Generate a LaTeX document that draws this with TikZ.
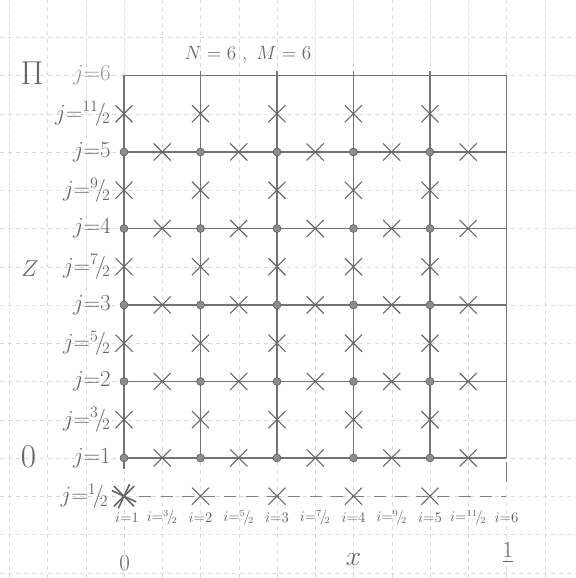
\documentclass[tikz,border=0pt]{standalone}
\usepackage{amsmath}
\usepackage{tikz}
\usetikzlibrary{shapes,positioning,calc}
\usepackage{xcolor}

\newcommand{\slfrac}[2]{{}^{#1}\!/\!_{#2}}

\begin{document}
\begin{tikzpicture}[x=2.02cm, y=2.02cm, every node/.style={font=\large, text=black!60},
    pt/.style={circle, draw=black!65, fill=black!45, inner sep=0pt, minimum size=6pt},
    crs/.style={cross out, draw=black!60, thick, inner sep=0pt, minimum size=12pt},
    gridline/.style={draw=black!55, thick},
    jlab/.style={anchor=east, inner sep=0pt, font=\LARGE},
    ilab/.style={font=\fontsize{10.5}{12}\selectfont, inner sep=0pt}]
    \useasboundingbox (-0.621,-0.569) rectangle (6.908,6.987);
    % squared paper
    \draw[blue!20!gray!25, dashed, very thin] (-0.621,-0.569) grid[step=0.5] (6.908,6.987);

    % main grid
    \foreach \j in {1,...,6}
        \draw[gridline] (1,\j) -- (6,\j);
    \foreach \i in {1,...,6}
        \draw[gridline] (\i,1) -- (\i,6);
    \draw[gridline] (1,1) -- (1,0.86);
    \draw[gridline] (6,0.95) -- (6,0.7);
    \foreach \i in {2,...,5}
        \draw[gridline] (\i,5.96) -- (\i,6.06);
    \draw[black!50, thick, dash pattern=on 9pt off 7pt] (1.2,0.5) -- (6,0.5);

    % integer points
    \foreach \i in {1,...,5}
        \foreach \j in {1,...,5}
            \node[pt] (d\i\j) at (\i,\j) {};
    % half points
    \foreach \i in {1,...,5}
        \foreach \j in {1,...,5} {
            \node[crs] (v\i\j) at (\i,\j+0.5) {};
            \node[crs] (h\i\j) at (\i+0.5,\j) {};
        }
    \foreach \i in {2,...,5}
        \node[crs] (b\i) at (\i,0.5) {};
    \node[crs, very thick, minimum size=14pt] (b1) at (1,0.5) {};
    \node[crs, very thick, minimum size=13pt, rotate=20] (b1x) at (1,0.5) {};

    % j labels
    \node[jlab, text=black!40] (lj6) at (0.83,6) {$j{=}6$};
    \node[jlab] (lj55) at (0.83,5.5) {$j{=}\slfrac{11}{2}$};
    \node[jlab] (lj5) at (0.83,5) {$j{=}5$};
    \node[jlab] (lj45) at (0.83,4.5) {$j{=}\slfrac{9}{2}$};
    \node[jlab] (lj4) at (0.83,4) {$j{=}4$};
    \node[jlab] (lj35) at (0.83,3.5) {$j{=}\slfrac{7}{2}$};
    \node[jlab] (lj3) at (0.83,3) {$j{=}3$};
    \node[jlab] (lj25) at (0.83,2.5) {$j{=}\slfrac{5}{2}$};
    \node[jlab] (lj2) at (0.83,2) {$j{=}2$};
    \node[jlab] (lj15) at (0.83,1.5) {$j{=}\slfrac{3}{2}$};
    \node[jlab] (lj1) at (0.83,1) {$j{=}1$};
    \node[jlab] (lj05) at (0.8,0.5) {$j{=}\slfrac{1}{2}$};

    % i labels
    \node[ilab] (li1) at (1.04,0.22) {$i{=}1$};
    \node[ilab] (li15) at (1.5,0.22) {$i{=}\slfrac{3}{2}$};
    \node[ilab] (li2) at (2,0.22) {$i{=}2$};
    \node[ilab] (li25) at (2.5,0.22) {$i{=}\slfrac{5}{2}$};
    \node[ilab] (li3) at (3,0.22) {$i{=}3$};
    \node[ilab] (li35) at (3.5,0.22) {$i{=}\slfrac{7}{2}$};
    \node[ilab] (li4) at (4,0.22) {$i{=}4$};
    \node[ilab] (li45) at (4.5,0.22) {$i{=}\slfrac{9}{2}$};
    \node[ilab] (li5) at (5,0.22) {$i{=}5$};
    \node[ilab] (li55) at (5.5,0.22) {$i{=}\slfrac{11}{2}$};
    \node[ilab] (li6) at (6,0.22) {$i{=}6$};

    % axes
    \node[font=\Huge] (zmax) at (-0.2,6.03) {$\Pi$};
    \node[font=\LARGE] (zlab) at (-0.23,3.48) {$Z$};
    \node[font=\Huge] (zmin) at (-0.25,1.01) {$0$};
    \node[font=\LARGE] (xmin) at (1.01,-0.37) {$0$};
    \node[font=\huge] (xlab) at (4,-0.33) {$x$};
    \node[font=\LARGE] (xmax) at (6.02,-0.24) {$\underline{1}$};

    \node[font=\fontsize{13.5}{16}\selectfont] (title) at (2.62,6.27) {$N=6\ ,\ M=6$};
\end{tikzpicture}
\end{document}
